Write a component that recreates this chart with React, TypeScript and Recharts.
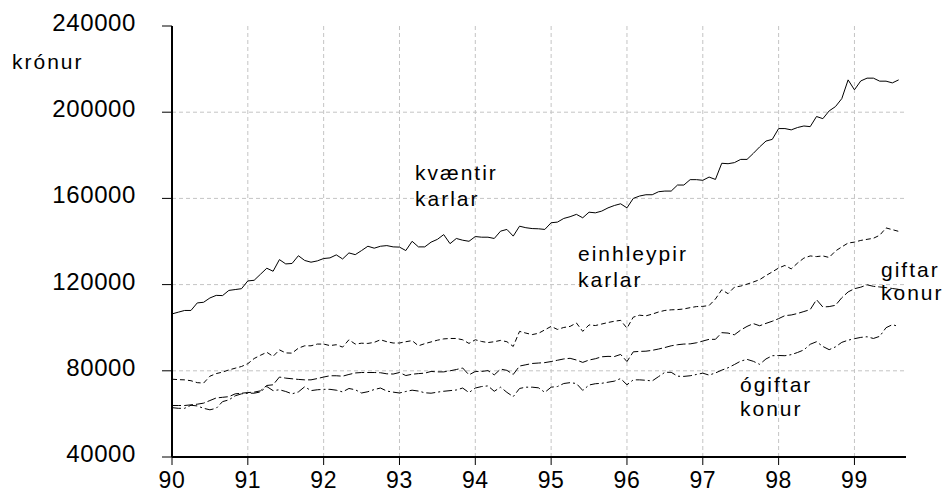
import React from "react";
import { LineChart, Line, XAxis, YAxis, ReferenceLine } from "recharts";

// monthly values, Jan 1990 .. Aug 1999
const kvaentirKarlar = [
  106400, 107200, 108000, 108000, 111500, 111800, 113800, 115000, 114900, 117300,
  117700, 118100, 121700, 122000, 124800, 127600, 126200, 131600, 129600, 129800,
  133400, 131200, 130400, 131000, 132100, 132400, 133800, 131900, 134700, 133900,
  135800, 137800, 136900, 137800, 138100, 137500, 137400, 135800, 140100, 137500,
  137500, 139700, 141000, 143200, 139000, 141400, 140600, 140100, 142300, 142000,
  142000, 141400, 144800, 145600, 142500, 147100, 146400, 146000, 145900, 145600,
  148700, 149000, 150700, 151500, 152600, 151000, 153600, 153300, 154100, 155600,
  156700, 157500, 155600, 160000, 161100, 161700, 161700, 163100, 163400, 163400,
  166200, 166200, 168700, 168700, 168400, 169900, 168800, 176300, 176100, 176600,
  178100, 178100, 180900, 183900, 186600, 187400, 192400, 192400, 191800, 192900,
  193600, 193300, 198000, 197000, 200600, 202600, 206300, 215000, 210400, 214500,
  215800, 215800, 214400, 214400, 213600, 215000,
];

const einhleypirKarlar = [
  76100, 75900, 75800, 75400, 74500, 74300, 77500, 78700, 79400, 80400,
  81200, 82000, 83300, 85700, 87200, 88600, 86700, 89700, 88300, 88200,
  90500, 91600, 91600, 92400, 92400, 91700, 92100, 91000, 94400, 92400,
  92800, 92700, 93200, 94400, 93500, 92900, 92900, 93500, 94000, 91600,
  92600, 93400, 94200, 94800, 95000, 95000, 94400, 92700, 94400, 93600,
  93100, 93500, 94100, 93500, 91300, 98300, 97500, 96800, 97400, 99000,
  100600, 99200, 100100, 100600, 102200, 98300, 101300, 101000, 101700, 102400,
  103000, 103400, 99800, 104900, 105800, 105500, 106300, 107300, 108000, 108300,
  108400, 108700, 109300, 109800, 109900, 110300, 113300, 117600, 115800, 118800,
  119300, 120200, 121200, 122300, 124200, 125900, 127700, 128900, 127300, 130000,
  132300, 133300, 133000, 133300, 132600, 135600, 137500, 139300, 139700, 140500,
  141000, 141500, 142900, 146300, 145500, 144700,
];

const giftarKonur = [
  63900, 63900, 63900, 64200, 64500, 65000, 66200, 67400, 67700, 68000,
  69300, 69600, 69900, 70100, 70700, 73200, 73500, 77100, 76600, 76300,
  76000, 75800, 75800, 76400, 77100, 77700, 77700, 77500, 78300, 79000,
  79200, 79200, 79200, 79100, 78600, 78500, 79200, 77800, 78400, 78700,
  78900, 79700, 79500, 79500, 80000, 80600, 81300, 78100, 79700, 79700,
  80100, 78100, 80800, 80200, 78300, 82200, 82800, 83400, 83600, 83800,
  84300, 84900, 85500, 85800, 85000, 83900, 85000, 85600, 86500, 86700,
  86600, 87600, 84300, 88800, 89000, 89100, 89500, 90100, 90800, 91600,
  92100, 92400, 92500, 93000, 93800, 94600, 94600, 97700, 97500, 96700,
  98900, 100600, 101900, 100900, 102000, 103000, 104200, 105600, 105900, 106600,
  107500, 108400, 113000, 109600, 109800, 110400, 113900, 116600, 118100, 118800,
  119900, 119200, 118900, 118600, 118200, 117800,
];

const ogiftarKonur = [
  62900, 62600, 62600, 64000, 63700, 62600, 61900, 62600, 65700, 66500,
  68400, 69300, 69600, 69600, 70200, 72700, 70800, 71200, 70400, 69300,
  70200, 72600, 70800, 71200, 71400, 71400, 71000, 70200, 71800, 71200,
  69700, 70300, 71300, 72000, 70600, 70100, 69700, 70400, 71000, 70600,
  69800, 69600, 70100, 70500, 70800, 71100, 72000, 69900, 72000, 72700,
  73000, 70500, 72400, 70000, 68000, 71800, 72400, 72400, 72100, 70000,
  72400, 72700, 74100, 74500, 74100, 70900, 73400, 74000, 74200, 74700,
  75200, 76400, 73500, 75800, 75800, 75600, 75300, 77300, 79300, 79300,
  77500, 77400, 77700, 78300, 78900, 78000, 79000, 80300, 81400, 82900,
  84500, 85300, 84400, 83000, 85500, 87000, 87100, 87000, 87500, 88500,
  89700, 92300, 93500, 91300, 89800, 91100, 93200, 94200, 94900, 95500,
  95800, 95000, 96000, 100000, 101400, 100600,
];

const firstYear = 90;
const yearTicks = [90, 91, 92, 93, 94, 95, 96, 97, 98, 99];
const valueTicks = [40000, 80000, 120000, 160000, 200000, 240000];
const gridValues = [80000, 120000, 160000, 200000];

const data = kvaentirKarlar.map((v, i) => ({
  t: firstYear + i / 12,
  kvaentir: v,
  einhleypir: einhleypirKarlar[i],
  giftar: giftarKonur[i],
  ogiftar: ogiftarKonur[i],
}));

const FONT = '"Liberation Sans", Arial, sans-serif';
const GRID = "#c4c4c4";

const YTick = ({ x, y, payload }: any) => (
  <text x={x - 24} y={y + 5} textAnchor="end" fontSize={24} fontFamily={FONT} fill="#000" letterSpacing={0.6}>
    {payload.value}
  </text>
);

const XTick = ({ x, y, payload }: any) => (
  <text x={x} y={y + 21} textAnchor="middle" fontSize={23} fontFamily={FONT} fill="#000" letterSpacing={0.6}>
    {payload.value}
  </text>
);

const note: React.CSSProperties = {
  position: "absolute",
  fontFamily: FONT,
  fontSize: 21,
  letterSpacing: 2,
  lineHeight: "26px",
  color: "#000",
  whiteSpace: "pre",
};

export default function App() {
  return (
    <div style={{ position: "absolute", left: 0, top: 0, width: 949, height: 493, background: "#fff" }}>
      <LineChart width={949} height={493} data={data} margin={{ top: 26, right: 43, left: 0, bottom: 0 }}>
        {gridValues.map((v) => (
          <ReferenceLine key={"h" + v} y={v} stroke={GRID} strokeDasharray="4 3" />
        ))}
        {yearTicks.slice(1).map((t) => (
          <ReferenceLine key={"v" + t} x={t} stroke={GRID} strokeDasharray="4 3" />
        ))}
        <XAxis
          dataKey="t"
          type="number"
          domain={[90, 99.68]}
          ticks={yearTicks}
          allowDataOverflow
          height={36}
          tickSize={8}
          stroke="#000"
          axisLine={{ stroke: "#000", strokeWidth: 2 }}
          tick={<XTick />}
        />
        <YAxis
          type="number"
          domain={[40000, 240000]}
          ticks={valueTicks}
          allowDataOverflow
          width={172}
          tickSize={10}
          stroke="#000"
          axisLine={{ stroke: "#000", strokeWidth: 2 }}
          tick={<YTick />}
        />
        <Line type="linear" dataKey="kvaentir" stroke="#000" strokeWidth={1} dot={false} isAnimationActive={false} />
        <Line type="linear" dataKey="einhleypir" stroke="#000" strokeWidth={1} strokeDasharray="5 3" dot={false} isAnimationActive={false} />
        <Line type="linear" dataKey="giftar" stroke="#000" strokeWidth={1} strokeDasharray="9 3" dot={false} isAnimationActive={false} />
        <Line type="linear" dataKey="ogiftar" stroke="#000" strokeWidth={1} strokeDasharray="9 3 2 3" dot={false} isAnimationActive={false} />
      </LineChart>
      <div style={{ ...note, left: 12, top: 49 }}>krónur</div>
      <div style={{ ...note, left: 415, top: 160 }}>{"kvæntir\nkarlar"}</div>
      <div style={{ ...note, left: 578, top: 241 }}>{"einhleypir\nkarlar"}</div>
      <div style={{ ...note, left: 881, top: 258, lineHeight: "23px" }}>{"giftar\nkonur"}</div>
      <div style={{ ...note, left: 740, top: 373, lineHeight: "24px" }}>{"ógiftar\nkonur"}</div>
    </div>
  );
}
